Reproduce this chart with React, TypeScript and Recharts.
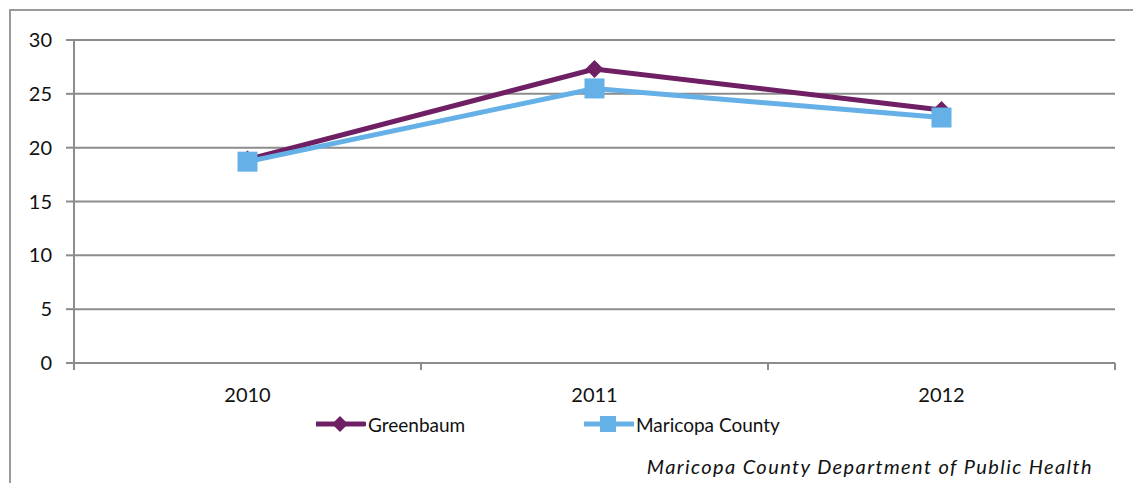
import React from 'react';
import { LineChart, Line, XAxis, YAxis, CartesianGrid, Legend } from 'recharts';

const categories = ['2010', '2011', '2012'];
const greenbaum = [18.9, 27.3, 23.5];
const maricopa = [18.7, 25.5, 22.8];
const yTicks = [0, 5, 10, 15, 20, 25, 30];
const seriesNames = ['Greenbaum', 'Maricopa County'];
const source = 'Maricopa County Department of Public Health';

const PURPLE = '#6f1f63';
const BLUE = '#65b0e6';
const GRID = '#8c8c8c';
const FONT = 'Lato, "Open Sans", sans-serif';

const data = categories.map((c, i) => ({
  x: i + 0.5,
  year: c,
  greenbaum: greenbaum[i],
  maricopa: maricopa[i],
}));

const xTicks: number[] = [];
for (let i = 0; i <= categories.length * 2; i++) xTicks.push(i / 2);

const XTick = (props: any) => {
  const { x, y, payload } = props;
  const v = payload.value as number;
  if (Number.isInteger(v)) {
    return <line x1={x} x2={x} y1={y} y2={y + 7} stroke={GRID} strokeWidth={2} />;
  }
  const label = categories[Math.floor(v)];
  return (
    <text x={x} y={y + 31} textAnchor="middle" dominantBaseline="central" fontFamily={FONT} fontSize={20} fill="#111">
      {label}
    </text>
  );
};

const Diamond = (props: any) => {
  const { cx, cy } = props;
  if (cx == null || cy == null) return null;
  const r = 9;
  return <polygon points={`${cx},${cy - r} ${cx + r},${cy} ${cx},${cy + r} ${cx - r},${cy}`} fill={PURPLE} />;
};

const Square = (props: any) => {
  const { cx, cy } = props;
  if (cx == null || cy == null) return null;
  const s = 20;
  return <rect x={cx - s / 2} y={cy - s / 2} width={s} height={s} fill={BLUE} />;
};

const LegendContent = () => (
  <div style={{ position: 'relative', width: 1133, height: 30, fontFamily: FONT, fontSize: 19, color: '#111' }}>
    <svg style={{ position: 'absolute', left: 316, top: 6 }} width={50} height={18}>
      <line x1={0} x2={48} y1={9} y2={9} stroke={PURPLE} strokeWidth={5} strokeLinecap="round" />
      <polygon points="24,1 32,9 24,17 16,9" fill={PURPLE} />
    </svg>
    <span style={{ position: 'absolute', left: 368, top: 15, transform: 'translateY(-50%)', whiteSpace: 'nowrap' }}>{seriesNames[0]}</span>
    <svg style={{ position: 'absolute', left: 584, top: 5 }} width={50} height={20}>
      <line x1={0} x2={49} y1={10} y2={10} stroke={BLUE} strokeWidth={5} strokeLinecap="round" />
      <rect x={16} y={2} width={16} height={16} fill={BLUE} />
    </svg>
    <span style={{ position: 'absolute', left: 636, top: 15, transform: 'translateY(-50%)', whiteSpace: 'nowrap' }}>{seriesNames[1]}</span>
  </div>
);

export default function App() {
  return (
    <div style={{ position: 'absolute', left: 0, top: 0, width: 1133, height: 483, background: '#fff', overflow: 'hidden' }}>
      <div style={{ position: 'absolute', left: 9, top: 9, width: 1200, height: 600, borderLeft: '2px solid #9a9a9a', borderTop: '2px solid #9a9a9a' }} />
      <div style={{ position: 'absolute', left: 0, top: 0 }}>
        <LineChart width={1133} height={483} data={data} margin={{ top: 40, right: 18, left: 10, bottom: 50 }}>
          <CartesianGrid vertical={false} stroke={GRID} strokeWidth={2} />
          <XAxis
            dataKey="x"
            type="number"
            domain={[0, 3]}
            ticks={xTicks}
            interval={0}
            tickLine={false}
            tickSize={0}
            tickMargin={0}
            axisLine={{ stroke: GRID, strokeWidth: 2 }}
            tick={<XTick />}
            height={40}
          />
          <YAxis
            domain={[0, 30]}
            ticks={yTicks}
            interval={0}
            width={64}
            tickSize={8}
            tickMargin={14}
            axisLine={{ stroke: GRID, strokeWidth: 2 }}
            tickLine={{ stroke: GRID, strokeWidth: 2 }}
            tick={{ fontFamily: FONT, fontSize: 20, fill: '#111' }}
          />
          <Legend content={<LegendContent />} wrapperStyle={{ position: 'absolute', top: 409, left: 0, width: 1133, height: 30 }} />
          <Line dataKey="greenbaum" name={seriesNames[0]} stroke={PURPLE} strokeWidth={5} dot={<Diamond />} activeDot={false} isAnimationActive={false} />
          <Line dataKey="maricopa" name={seriesNames[1]} stroke={BLUE} strokeWidth={5} dot={<Square />} activeDot={false} isAnimationActive={false} />
        </LineChart>
      </div>
      <div style={{ position: 'absolute', right: 40, top: 466, transform: 'translateY(-50%)', fontFamily: FONT, fontStyle: 'italic', fontSize: 20, letterSpacing: 1.4, color: '#111', whiteSpace: 'nowrap' }}>
        {source}
      </div>
    </div>
  );
}
